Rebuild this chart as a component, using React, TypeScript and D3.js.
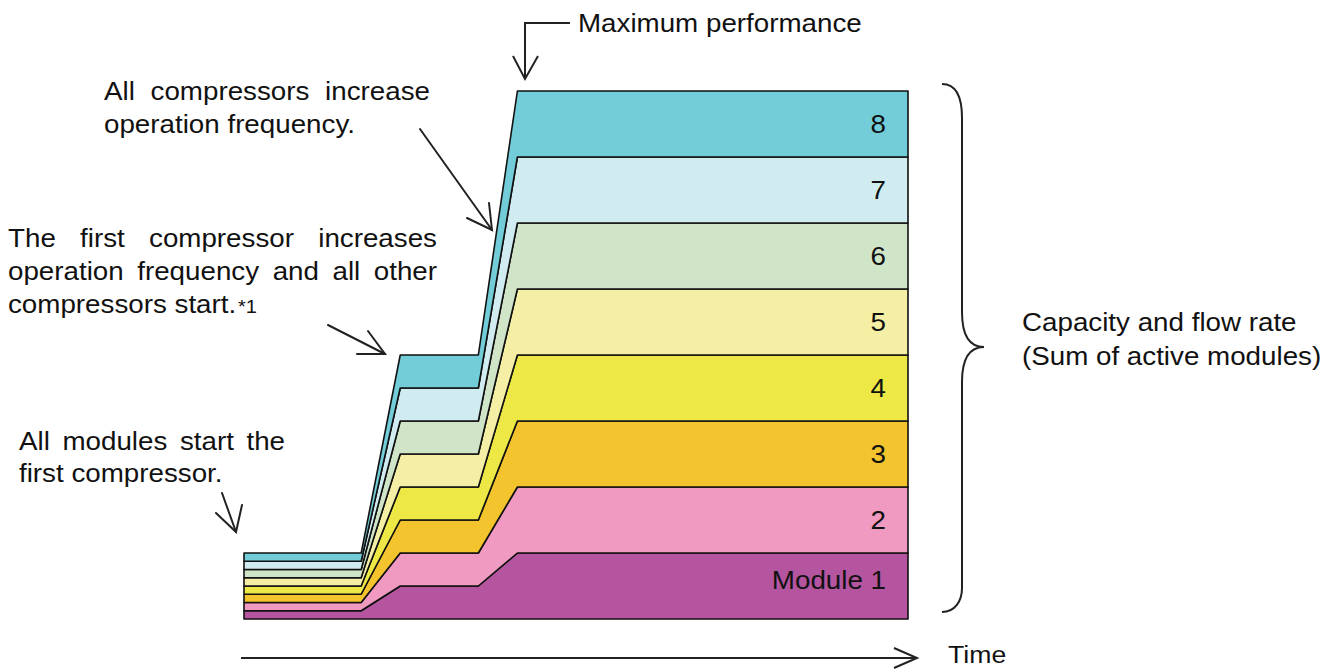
import React from "react";
import * as d3 from "d3";

// ---- data ----
const times = [0, 3, 4, 6, 7, 17]; // time breakpoints (arbitrary units)
const module1 = [0.125, 0.125, 0.5, 0.5, 1, 1];
const module2 = [0.125, 0.125, 0.5, 0.5, 1, 1];
const module3 = [0.125, 0.125, 0.5, 0.5, 1, 1];
const module4 = [0.125, 0.125, 0.5, 0.5, 1, 1];
const module5 = [0.125, 0.125, 0.5, 0.5, 1, 1];
const module6 = [0.125, 0.125, 0.5, 0.5, 1, 1];
const module7 = [0.125, 0.125, 0.5, 0.5, 1, 1];
const module8 = [0.125, 0.125, 0.5, 0.5, 1, 1];
const moduleSeries = [module1, module2, module3, module4, module5, module6, module7, module8];
const moduleLabels = ["Module 1", "2", "3", "4", "5", "6", "7", "8"];
const moduleColors = ["#B5559F", "#F09AC2", "#F4C42E", "#EDE845", "#F4EFA4", "#D0E5C7", "#D0ECF0", "#72CDD8"];

const FONT = "'Liberation Sans', Arial, Helvetica, sans-serif";
const FS = 25;
const SX = 1.11;

let ctx: CanvasRenderingContext2D | null = null;
function measure(t: string, size = FS) {
  if (!ctx) {
    const c = document.createElement("canvas");
    ctx = c.getContext("2d");
  }
  if (!ctx) return t.length * size * 0.5;
  ctx.font = `${size}px ${FONT}`;
  return ctx.measureText(t).width;
}

function Line({ text, x0, x1, y, justify }: { text: string; x0: number; x1?: number; y: number; justify?: boolean }) {
  const words = text.split(" ");
  const widths = words.map((w) => measure(w) * SX);
  const total = widths.reduce((a, b) => a + b, 0);
  let gap = measure(" ") * SX;
  if (justify && x1 !== undefined && words.length > 1) gap = (x1 - x0 - total) / (words.length - 1);
  let x = x0;
  return (
    <g>
      {words.map((w, i) => {
        const el = (
          <text key={i} transform={`translate(${x},${y}) scale(${SX},1)`} fontSize={FS} fontFamily={FONT} fill="#111">
            {w}
          </text>
        );
        x += widths[i] + gap;
        return el;
      })}
    </g>
  );
}

export default function App() {
  const W = 1341, H = 670;
  const x = d3.scaleLinear().domain([0, 17]).range([244, 908]);
  const y = d3.scaleLinear().domain([0, 8]).range([619, 91]);

  const rows = times.map((t, i) => {
    const r: any = { t };
    moduleSeries.forEach((s, k) => (r["m" + k] = s[i]));
    return r;
  });
  const keys = moduleSeries.map((_, k) => "m" + k);
  const stacked = d3.stack().keys(keys)(rows);
  const area = d3
    .area<any>()
    .x((d) => x(d.data.t))
    .y0((d) => y(d[0]))
    .y1((d) => y(d[1]))
    .curve(d3.curveLinear);

  const lastIdx = times.length - 1;

  const arrow = (x1: number, y1: number, tx: number, ty: number, ax: number, ay: number, bx: number, by: number, key: string) => (
    <g key={key} stroke="#222" strokeWidth={2} fill="none" strokeLinecap="round">
      <line x1={x1} y1={y1} x2={tx} y2={ty} />
      <polyline points={`${ax},${ay} ${tx},${ty} ${bx},${by}`} />
    </g>
  );

  return (
    <svg width={W} height={H} style={{ position: "absolute", left: 0, top: 0, background: "#fff" }}>
      {/* stacked layers */}
      {stacked.map((s, k) => (
        <path key={k} d={area(s as any) || ""} fill={moduleColors[k]} stroke="#111" strokeWidth={1.6} strokeLinejoin="round" />
      ))}
      {/* labels */}
      {stacked.map((s, k) => {
        const d = s[lastIdx];
        const cy = y((d[0] + d[1]) / 2) + (k === 0 ? -6 : 0);
        return (
          <text
            key={"l" + k}
            transform={`translate(886,${cy + 9}) scale(${SX},1)`}
            textAnchor="end"
            fontSize={FS}
            fontFamily={FONT}
            fill="#111"
          >
            {moduleLabels[k]}
          </text>
        );
      })}

      {/* time axis */}
      <g stroke="#222" strokeWidth={2} fill="none">
        <line x1={241} y1={658} x2={917} y2={658} />
        <polyline points="894,648 917,658 894,668" />
      </g>
      <text transform={`translate(948,663) scale(${SX},1)`} fontSize={24} fontFamily={FONT} fill="#111">
        Time
      </text>

      {/* brace */}
      <path
        d="M942,84 C955,84 962,95 962,118 L962,312 C962,336 970,347 984,347 C970,347 962,358 962,382 L962,588 C962,601 955,612 942,612"
        fill="none"
        stroke="#222"
        strokeWidth={2}
      />
      <Line text="Capacity and flow rate" x0={1022} y={331} />
      <Line text="(Sum of active modules)" x0={1022} y={365} />

      {/* maximum performance */}
      <g stroke="#222" strokeWidth={2} fill="none">
        <polyline points="570,23 525,23 525,79" />
        <polyline points="513,56 525,79 538,56" />
      </g>
      <Line text="Maximum performance" x0={578} y={32} />

      {/* annotations */}
      <Line text="All compressors increase" x0={104} x1={430} y={100} justify />
      <Line text="operation frequency." x0={104} y={133} />
      {arrow(420, 129, 492, 230, 489, 203, 467, 218, "a1")}

      <Line text="The first compressor increases" x0={8} x1={437} y={247} justify />
      <Line text="operation frequency and all other" x0={8} x1={437} y={280} justify />
      <Line text="compressors start." x0={8} y={313} />
      <text transform={`translate(238,313) scale(${SX},1)`} fontSize={18} fontFamily={FONT} fill="#111">
        *1
      </text>
      {arrow(328, 325, 385, 354, 368, 331, 357, 354, "a2")}

      <Line text="All modules start the" x0={19} x1={285} y={450} justify />
      <Line text="first compressor." x0={19} y={482} />
      {arrow(222, 493, 236, 532, 216, 513, 242, 505, "a3")}
    </svg>
  );
}
